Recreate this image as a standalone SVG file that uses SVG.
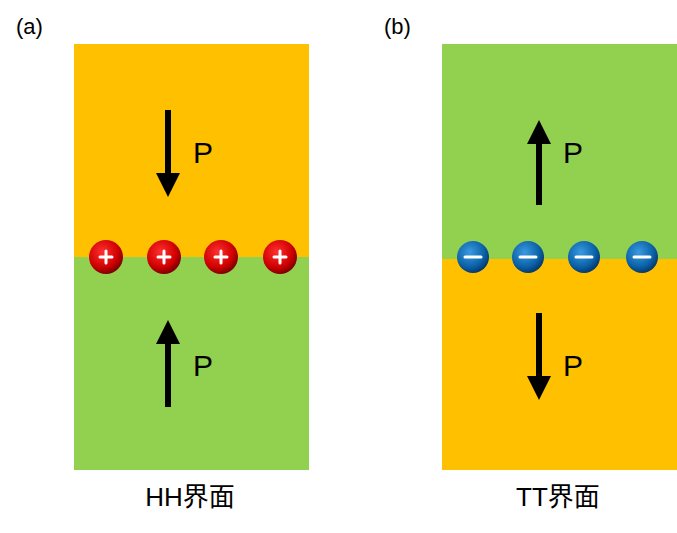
<svg xmlns="http://www.w3.org/2000/svg" width="677" height="533" viewBox="0 0 677 533">
<defs>
<radialGradient id="rg" cx="0.4" cy="0.35" r="0.65"><stop offset="0" stop-color="#ff3030"/><stop offset="0.7" stop-color="#d00000"/><stop offset="1" stop-color="#800000"/></radialGradient>
<radialGradient id="bg" cx="0.4" cy="0.35" r="0.65"><stop offset="0" stop-color="#3a9ae0"/><stop offset="0.7" stop-color="#0b62a8"/><stop offset="1" stop-color="#063a70"/></radialGradient>
<marker id="ah" markerWidth="4" markerHeight="4" refX="2" refY="2" orient="auto" markerUnits="strokeWidth" viewBox="0 0 4 4"><path d="M0,0 L4,2 L0,4 z" fill="#000"/></marker>
<style>
.t{font-family:"Liberation Sans","Noto Sans CJK SC",sans-serif;fill:#000}
.ar{stroke:#000;stroke-width:6;marker-end:url(#ah)}
.s{stroke:#fff;stroke-width:3;stroke-linecap:round}
</style>
</defs>
<rect width="677" height="533" fill="#fff"/>
<g id="panelA">
<rect x="74" y="44" width="235" height="213" fill="#ffc000"/>
<rect x="74" y="257" width="235" height="213" fill="#92d050"/>
</g>
<g id="panelB">
<rect x="442" y="44" width="235" height="215" fill="#92d050"/>
<rect x="442" y="259" width="235" height="211" fill="#ffc000"/>
</g>
<g id="connectors">
<line class="ar" x1="168" y1="110" x2="168" y2="185"/>
<line class="ar" x1="168" y1="407" x2="168" y2="332"/>
<line class="ar" x1="539" y1="205" x2="539" y2="132"/>
<line class="ar" x1="539" y1="313" x2="539" y2="388"/>
</g>
<g id="chargesA">
<g><circle cx="106" cy="257" r="17" fill="url(#rg)"/><path class="s" d="M100,257h12M106,251v12"/></g>
<g><circle cx="164" cy="257" r="17" fill="url(#rg)"/><path class="s" d="M158,257h12M164,251v12"/></g>
<g><circle cx="221" cy="257" r="17" fill="url(#rg)"/><path class="s" d="M215,257h12M221,251v12"/></g>
<g><circle cx="280" cy="257" r="17" fill="url(#rg)"/><path class="s" d="M274,257h12M280,251v12"/></g>
</g>
<g id="chargesB">
<g><circle cx="473" cy="257" r="16" fill="url(#bg)"/><path class="s" d="M465,257h16" stroke="#cfe8ff"/></g>
<g><circle cx="528" cy="257" r="16" fill="url(#bg)"/><path class="s" d="M520,257h16"/></g>
<g><circle cx="584" cy="257" r="16" fill="url(#bg)"/><path class="s" d="M576,257h16"/></g>
<g><circle cx="642" cy="257" r="16" fill="url(#bg)"/><path class="s" d="M634,257h16"/></g>
</g>
<g id="labels">
<text class="t" x="16" y="34" font-size="22">(a)</text>
<text class="t" x="384" y="34" font-size="22">(b)</text>
<text class="t" x="193" y="163" font-size="30">P</text>
<text class="t" x="193" y="376" font-size="30">P</text>
<text class="t" x="563" y="163" font-size="30">P</text>
<text class="t" x="563" y="376" font-size="30">P</text>
<text class="t" x="190" y="506" font-size="26" text-anchor="middle">HH界面</text>
<text class="t" x="558" y="506" font-size="26" text-anchor="middle">TT界面</text>
</g>
</svg>
